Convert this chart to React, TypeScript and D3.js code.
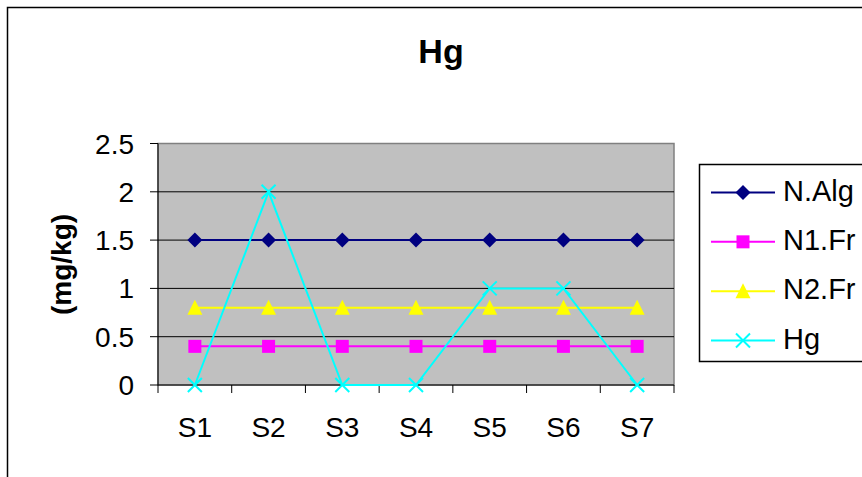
import React from 'react';
import * as d3 from 'd3';

const categories = ['S1', 'S2', 'S3', 'S4', 'S5', 'S6', 'S7'];
const nAlg = [1.5, 1.5, 1.5, 1.5, 1.5, 1.5, 1.5];
const n1Fr = [0.4, 0.4, 0.4, 0.4, 0.4, 0.4, 0.4];
const n2Fr = [0.8, 0.8, 0.8, 0.8, 0.8, 0.8, 0.8];
const hg = [0, 2, 0, 0, 1, 1, 0];
const yTicks = [0, 0.5, 1, 1.5, 2, 2.5];

const series = [
    { name: 'N.Alg', values: nAlg, color: '#000080', marker: 'diamond' },
    { name: 'N1.Fr', values: n1Fr, color: '#FF00FF', marker: 'square' },
    { name: 'N2.Fr', values: n2Fr, color: '#FFFF00', marker: 'triangle' },
    { name: 'Hg', values: hg, color: '#00FFFF', marker: 'x' },
];

const W = 862;
const H = 477;
const plot = { left: 158, right: 674, top: 143.5, bottom: 385 };
const font = 'Arial, "Liberation Sans", sans-serif';

const Marker = ({ type, color, x, y }) => {
    if (type === 'diamond') {
        return <path d={`M${x},${y - 7.5}L${x + 7.5},${y}L${x},${y + 7.5}L${x - 7.5},${y}Z`} fill={color} />;
    }
    if (type === 'square') {
        return <rect x={x - 6.5} y={y - 6.5} width={13} height={13} fill={color} />;
    }
    if (type === 'triangle') {
        return <path d={`M${x},${y - 8}L${x + 7.5},${y + 7}L${x - 7.5},${y + 7}Z`} fill={color} />;
    }
    return (
        <path
            d={`M${x - 7},${y - 7}L${x + 7},${y + 7}M${x - 7},${y + 7}L${x + 7},${y - 7}`}
            stroke={color}
            strokeWidth={2}
            fill="none"
        />
    );
};

export default function App() {
    const x = d3.scaleBand().domain(categories).range([plot.left, plot.right]);
    const y = d3.scaleLinear().domain([0, 2.5]).range([plot.bottom, plot.top]);
    const line = d3
        .line<number>()
        .x((_, i) => x(categories[i])! + x.bandwidth() / 2)
        .y((d) => y(d));

    const boundaries = d3.range(categories.length + 1).map((i) => plot.left + i * x.step());

    const legendRows = d3.scalePoint().domain(series.map((s) => s.name)).range([192.5, 340.5]);

    return (
        <svg
            width={W}
            height={H}
            style={{ position: 'absolute', left: 0, top: 0, background: '#fff' }}
            fontFamily={font}
        >
            <rect x={7.5} y={7.5} width={W} height={H} fill="#fff" stroke="#000" strokeWidth={1.5} />
            <text x={441} y={63} textAnchor="middle" fontSize={34} fontWeight="bold">
                Hg
            </text>
            <text
                transform="translate(71,264.5) rotate(-90)"
                textAnchor="middle"
                fontSize={28}
                fontWeight="bold"
            >
                (mg/kg)
            </text>

            <rect
                x={plot.left}
                y={plot.top}
                width={plot.right - plot.left}
                height={plot.bottom - plot.top}
                fill="#C0C0C0"
                stroke="#808080"
                strokeWidth={1.5}
            />
            {yTicks.slice(1, -1).map((t) => (
                <line key={t} x1={plot.left} x2={plot.right} y1={y(t)} y2={y(t)} stroke="#000" strokeWidth={1} />
            ))}
            <line x1={plot.left} x2={plot.left} y1={plot.top} y2={plot.bottom} stroke="#000" />
            <line x1={plot.left} x2={plot.right} y1={plot.bottom} y2={plot.bottom} stroke="#000" />
            {yTicks.map((t) => (
                <g key={t}>
                    <line x1={plot.left - 8} x2={plot.left} y1={y(t)} y2={y(t)} stroke="#000" />
                    <text x={134} y={y(t)} dy={10} textAnchor="end" fontSize={28}>
                        {t}
                    </text>
                </g>
            ))}
            {boundaries.map((b, i) => (
                <line key={i} x1={b} x2={b} y1={plot.bottom} y2={plot.bottom + 8} stroke="#000" />
            ))}
            {categories.map((c) => (
                <text key={c} x={x(c)! + x.bandwidth() / 2} y={437} textAnchor="middle" fontSize={28}>
                    {c}
                </text>
            ))}

            {series.map((s) => (
                <g key={s.name}>
                    <path d={line(s.values)!} fill="none" stroke={s.color} strokeWidth={2} />
                    {s.values.map((v, i) => (
                        <Marker
                            key={i}
                            type={s.marker}
                            color={s.color}
                            x={x(categories[i])! + x.bandwidth() / 2}
                            y={y(v)}
                        />
                    ))}
                </g>
            ))}

            <rect x={699.5} y={164.5} width={200} height={197} fill="#fff" stroke="#000" strokeWidth={1.5} />
            {series.map((s) => {
                const ry = legendRows(s.name)!;
                return (
                    <g key={s.name}>
                        <line x1={711} x2={775} y1={ry} y2={ry} stroke={s.color} strokeWidth={2} />
                        <Marker type={s.marker} color={s.color} x={743} y={ry} />
                        <text x={783} y={ry + 8} fontSize={29}>
                            {s.name}
                        </text>
                    </g>
                );
            })}
        </svg>
    );
}
